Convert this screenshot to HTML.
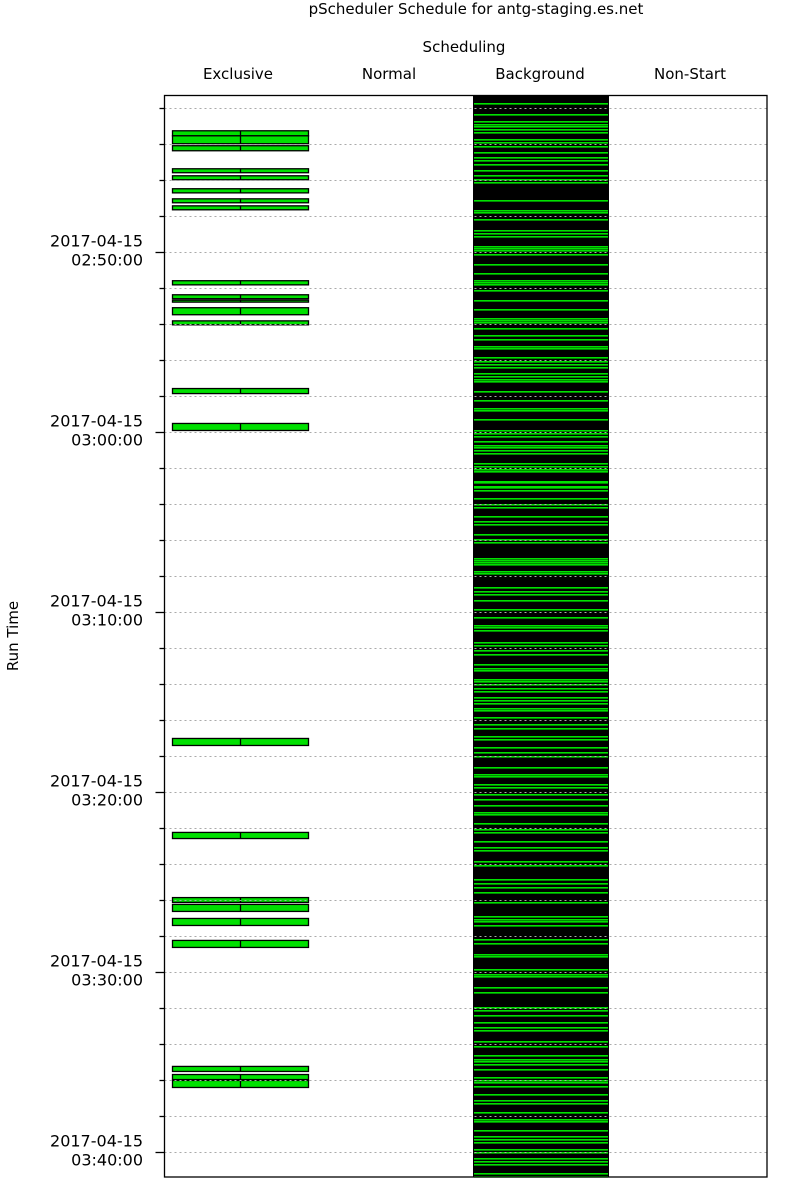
<!DOCTYPE html>
<html><head><meta charset="utf-8">
<style>
html,body{margin:0;padding:0;background:#fff;}
svg{display:block;font-family:"DejaVu Sans","Liberation Sans",sans-serif;}
</style></head>
<body>
<svg id="chart" width="800" height="1200" viewBox="0 0 800 1200" xmlns="http://www.w3.org/2000/svg">
  <text x="476" y="14" font-size="15" text-anchor="middle" fill="#000">pScheduler Schedule for antg-staging.es.net</text>
  <text x="464" y="52" font-size="15" text-anchor="middle" fill="#000">Scheduling</text>
  <text transform="translate(18,636) rotate(-90)" font-size="15" text-anchor="middle" fill="#000">Run Time</text>
  <g id="grid"></g>
  <g id="marks"></g>
  <g id="axes"></g>
</svg>
<script>
// Categories (columns)
const categories = ["Exclusive", "Normal", "Background", "Non-Start"];
// Time axis: minutes after 02:41:20
const tickMinutes = [0.667,2.667,4.667,6.667,8.667,10.667,12.667,14.667,16.667,18.667,20.667,22.667,24.667,26.667,28.667,30.667,32.667,34.667,36.667,38.667,40.667,42.667,44.667,46.667,48.667,50.667,52.667,54.667,56.667,58.667];
const labelMinutes = [8.667,18.667,28.667,38.667,48.667,58.667];
const labelDates = ["2017-04-15","2017-04-15","2017-04-15","2017-04-15","2017-04-15","2017-04-15"];
const labelTimes = ["02:50:00","03:00:00","03:10:00","03:20:00","03:30:00","03:40:00"];
// Exclusive runs: start / end (minutes after 02:41:20)
const exclStart = [1.96,2.24,2.79,4.07,4.46,5.18,5.74,6.13,10.29,11.07,11.37,11.79,12.52,16.28,18.22,35.72,40.94,44.56,44.94,45.72,46.94,53.94,54.39,54.72];
const exclEnd   = [2.24,2.68,3.07,4.29,4.68,5.41,5.96,6.35,10.52,11.29,11.48,12.18,12.74,16.56,18.61,36.11,41.28,44.83,45.33,46.11,47.33,54.22,54.67,55.11];
// Background runs: start times (minutes after 02:41:20)
const bgStart = [0.41,1.02,1.43,1.57,1.71,1.85,2.04,2.44,2.56,2.83,3.13,3.43,3.61,3.83,4.13,4.44,4.63,4.83,5.79,6.35,6.48,6.85,7.46,7.65,7.83,8.37,8.48,8.61,8.83,9.35,9.87,10.24,10.35,10.46,10.83,11.35,11.85,12.35,12.46,12.59,12.91,13.33,13.52,13.89,14.02,14.54,14.76,14.91,15.06,15.43,15.56,15.74,15.87,16.39,16.94,17.35,17.46,17.96,18.61,18.76,18.89,19.17,19.39,19.54,19.72,19.87,20.43,20.56,20.74,20.87,21.39,21.48,21.67,21.76,21.89,22.37,22.68,22.87,23.37,23.65,23.83,24.35,24.63,24.82,25.68,25.79,25.89,26.02,26.39,26.5,27.32,27.5,27.72,28.02,28.52,28.98,29.39,29.5,29.72,30.37,30.52,30.78,31.02,31.57,31.82,31.94,32.41,32.54,32.68,32.91,33.09,33.43,33.57,33.76,34.02,34.13,34.54,34.94,35.13,35.61,35.74,36.21,36.48,36.72,37.28,37.68,37.78,38.24,38.43,38.79,39.07,39.44,39.82,39.94,40.43,40.74,40.93,41.39,41.76,41.91,42.5,42.74,43.52,43.76,43.98,44.26,44.82,45.56,45.74,45.87,46.11,46.85,47.07,47.68,47.83,48.52,48.79,48.94,49.54,49.82,50.65,50.83,51.06,51.48,51.76,51.94,52.5,52.78,53.33,53.52,53.65,53.83,54.07,54.54,54.68,54.82,55,55.46,55.83,55.98,56.48,56.85,56.98,57.46,57.78,57.96,58.15,58.52,58.71,59.04,59.19,59.37,59.87,60];
const bgDuration = 0.09;

const NS = "http://www.w3.org/2000/svg";
const plot = {left:164.5, right:767, top:95.5, bottom:1177};
const colW = (plot.right - plot.left) / categories.length;
const headerX = [238, 389, 540, 690];
function yScale(m){ return 95.5 + m * 18; }
function colX(i){ return plot.left + i * colW; }
function mk(tag, attrs, parent){ const e=document.createElementNS(NS,tag); for(const k in attrs) e.setAttribute(k,attrs[k]); parent.appendChild(e); return e; }

const grid = document.getElementById('grid');
const marks = document.getElementById('marks');
const axes = document.getElementById('axes');
const svg = document.getElementById('chart');

categories.forEach((c,i)=>{
  const t = mk('text',{x:headerX[i], y:79, 'font-size':15, 'text-anchor':'middle', fill:'#000'}, svg);
  t.textContent = c;
  
  
});

const bgRect = mk('rect',{x:473, y:plot.top, width:136, height:plot.bottom-plot.top, fill:'#000'}, marks);



bgStart.forEach((s)=>{
  const y0 = Math.round(yScale(s));
  const r = mk('rect',{x:474, y:y0, width:134, height:bgDuration*18, fill:'#00e000'}, marks);
  
  
});

tickMinutes.forEach((m)=>{
  const y = Math.round(yScale(m))+0.5;
  const l = mk('line',{x1:plot.left, x2:plot.right, y1:y, y2:y, stroke:'#aaa', 'stroke-width':1, 'stroke-dasharray':'2,3'}, grid);
  
  
  const isMajor = labelMinutes.some(v=>Math.abs(v-m)<0.01);
  const t = mk('line',{x1:plot.left-(isMajor?9:5), x2:plot.left, y1:y, y2:y, stroke:'#000', 'stroke-width':1.3}, axes);
  
  
});
svg.insertBefore(grid, marks.nextSibling);

exclStart.forEach((s,i)=>{
  const y0 = yScale(s), y1 = yScale(exclEnd[i]);
  const x0 = 172.5, w = 136;
  const r = mk('rect',{x:x0, y:y0, width:w, height:Math.max(1,y1-y0), fill:'#00e000', stroke:'#000', 'stroke-width':1.3}, marks);
  
  
  const d = mk('line',{x1:x0+w/2, x2:x0+w/2, y1:y0, y2:y1, stroke:'#000', 'stroke-width':1.3}, marks);
  
  
});

labelMinutes.forEach((m,i)=>{
  const y = yScale(m);
  const a = mk('text',{x:143, y:y-5, 'font-size':16, 'text-anchor':'end', fill:'#000'}, axes);
  a.textContent = labelDates[i];
  
  
  const b = mk('text',{x:143, y:y+14, 'font-size':16, 'text-anchor':'end', fill:'#000'}, axes);
  b.textContent = labelTimes[i];
  
  
});

const f = mk('rect',{x:plot.left, y:plot.top, width:plot.right-plot.left, height:plot.bottom-plot.top, fill:'none', stroke:'#000', 'stroke-width':1.3}, axes);


</script>
</body></html>
